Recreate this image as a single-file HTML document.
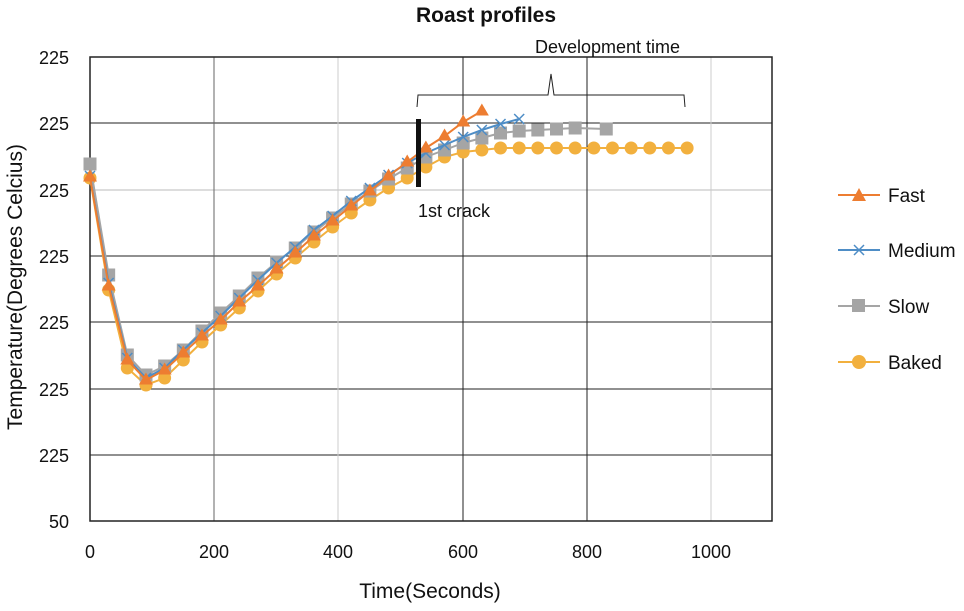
<!DOCTYPE html>
<html><head><meta charset="utf-8"><style>
html,body{margin:0;padding:0;background:#fff;}
svg text{font-family:"Liberation Sans",Arial,sans-serif;fill:#111;}
</style></head><body>
<svg id="s" width="964" height="606" viewBox="0 0 964 606" xmlns="http://www.w3.org/2000/svg">
<rect width="964" height="606" fill="#fff"/>
<text x="486" y="22" font-size="21" font-weight="bold" text-anchor="middle">Roast profiles</text>
<g stroke-width="1">
<line x1="90" y1="123" x2="772" y2="123" stroke="#222"/>
<line x1="90" y1="190" x2="772" y2="190" stroke="#bbb"/>
<line x1="90" y1="256" x2="772" y2="256" stroke="#222"/>
<line x1="90" y1="322" x2="772" y2="322" stroke="#222"/>
<line x1="90" y1="389" x2="772" y2="389" stroke="#222"/>
<line x1="90" y1="455" x2="772" y2="455" stroke="#222"/>
<line x1="214" y1="57" x2="214" y2="521" stroke="#666"/>
<line x1="338" y1="57" x2="338" y2="521" stroke="#ccc"/>
<line x1="463" y1="57" x2="463" y2="521" stroke="#222"/>
<line x1="587" y1="57" x2="587" y2="521" stroke="#222"/>
<line x1="711" y1="57" x2="711" y2="521" stroke="#ccc"/>
</g>
<rect x="90" y="57" width="682" height="464" fill="none" stroke="#222" stroke-width="1.5"/>
<g font-size="18" text-anchor="end">
<text x="69" y="64">225</text><text x="69" y="130">225</text><text x="69" y="197">225</text>
<text x="69" y="263">225</text><text x="69" y="329">225</text><text x="69" y="396">225</text>
<text x="69" y="462">225</text><text x="69" y="528">50</text>
</g>
<g font-size="18" text-anchor="middle">
<text x="90" y="558">0</text><text x="214" y="558">200</text><text x="338" y="558">400</text>
<text x="463" y="558">600</text><text x="587" y="558">800</text><text x="711" y="558">1000</text>
</g>
<text x="430" y="598" font-size="21" text-anchor="middle">Time(Seconds)</text>
<text transform="translate(22,287) rotate(-90)" font-size="21" text-anchor="middle">Temperature(Degrees Celcius)</text>
<g id="series"></g>
<rect x="416" y="119" width="5" height="68" fill="#111"/>
<text x="418" y="217" font-size="18">1st crack</text>
<path d="M417,107 L418,95 L548,95 L551,74 L554,95 L684,95 L685,107" fill="none" stroke="#222" stroke-width="1"/>
<text x="535" y="53" font-size="18">Development time</text>
<g font-size="19">
<line x1="838" y1="195" x2="880" y2="195" stroke="#ED7D31" stroke-width="2"/><path d="M859,188 L866,201 L852,201 Z" fill="#ED7D31"/><text x="888" y="202">Fast</text>
<line x1="838" y1="250" x2="880" y2="250" stroke="#4E8DC6" stroke-width="2"/><path d="M854,245 L864,255 M864,245 L854,255" stroke="#4E8DC6" stroke-width="1.5"/><text x="888" y="257">Medium</text>
<line x1="838" y1="306" x2="880" y2="306" stroke="#A5A5A5" stroke-width="2"/><rect x="852" y="299" width="13" height="13" fill="#A5A5A5"/><text x="888" y="313">Slow</text>
<line x1="838" y1="362" x2="880" y2="362" stroke="#F2B03E" stroke-width="2"/><circle cx="859" cy="362" r="7" fill="#F2B03E"/><text x="888" y="369">Baked</text>
</g>
</svg>
<script>
const X=t=>90+t*0.622;
const baked=[178,290,368,385,378,360,342,325,308,291,274,258,242,227,213,200,188,178,167,157,152,150,148,148,148,148,148,148,148,148,148,148,148];
const slow=[164,275,355,375,366,350,331,313,296,278,262,248,232,218,204,191,179,168,157,150,143,138,133,131,130,129,128,129];
const med=[176,283,358,378,368,350,333,316,298,280,263,247,230,216,201,188,175,163,153,145,137,130,124,119];
const fast=[177,286,360,380,370,353,336,320,302,286,269,253,236,221,206,191,176,162,148,136,122,111];
const g=document.getElementById('series');let h='';
function pts(a,last){return a.map((y,i)=>[X((i==a.length-1&&last)?last:i*30),y]);}
function line(p,c){return '<polyline fill="none" stroke="'+c+'" stroke-width="2" points="'+p.map(q=>q.join(',')).join(' ')+'"/>';}
let p=pts(baked,960);h+=line(p,'#F2B03E');p.forEach(q=>h+='<circle cx="'+q[0]+'" cy="'+q[1]+'" r="6.5" fill="#F2B03E"/>');
p=pts(slow,830);h+=line(p,'#A5A5A5');p.forEach(q=>h+='<rect x="'+(q[0]-6.5)+'" y="'+(q[1]-6.5)+'" width="13" height="13" fill="#A5A5A5"/>');
p=pts(med);h+=line(p,'#4E8DC6');p.forEach(q=>h+='<path d="M'+(q[0]-5)+','+(q[1]-5)+' l10,10 m0,-10 l-10,10" stroke="#4E8DC6" stroke-width="1.5"/>');
p=pts(fast);h+=line(p,'#ED7D31');p.forEach(q=>h+='<path d="M'+q[0]+','+(q[1]-7.5)+' l7,12 l-14,0 Z" fill="#ED7D31"/>');
g.innerHTML=h;
</script>
</body></html>
